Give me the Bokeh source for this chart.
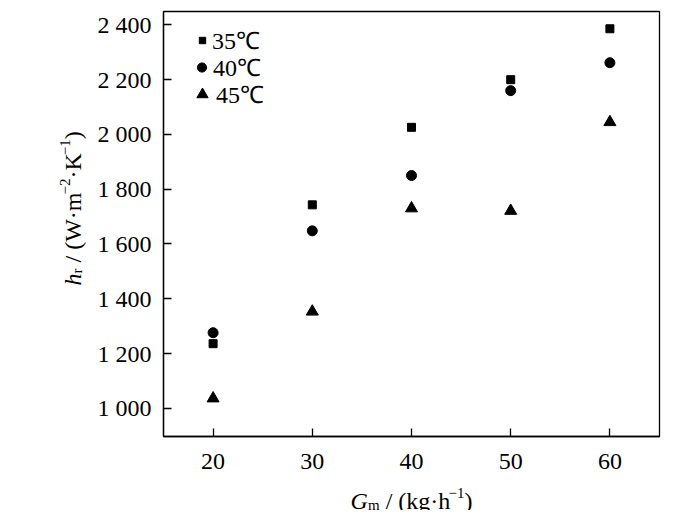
import math
from bokeh.plotting import figure
from bokeh.models import Range1d, FixedTicker, Legend, LegendItem, Label
from bokeh.layouts import row, column
from bokeh.embed import file_html
from bokeh.resources import INLINE

# ---- data ----
flow = [20, 30, 40, 50, 60]
hr_35 = [1236, 1743, 2026, 2200, 2386]
hr_40 = [1276, 1648, 1850, 2160, 2262]
hr_45 = [1036, 1353, 1730, 1721, 2045]
series_names = ["35℃", "40℃", "45℃"]
x_ticks = [20, 30, 40, 50, 60]
y_ticks = [1000, 1200, 1400, 1600, 1800, 2000, 2200, 2400]
y_tick_labels = ["1 000", "1 200", "1 400", "1 600", "1 800", "2 000", "2 200", "2 400"]

FONT = "Liberation Serif"
YL_W = 90      # width of the strip holding the y-axis title
MAIN_W = 684 - YL_W
MAIN_H = 480
XL_H = 30      # height of the strip holding the x-axis title
TOTAL_H = MAIN_H + XL_H

p = figure(width=MAIN_W, height=MAIN_H, output_backend="svg", toolbar_location=None,
           x_range=Range1d(15, 65), y_range=Range1d(897, 2449),
           min_border_left=163 - YL_W, min_border_right=25, min_border_top=11,
           min_border_bottom=MAIN_H - 436)
p.title = None
p.background_fill_color = "white"
p.border_fill_color = "white"
p.outline_line_color = "black"
p.outline_line_width = 1.3
p.xgrid.visible = False
p.ygrid.visible = False

for ax in (p.xaxis[0], p.yaxis[0]):
    ax.axis_line_color = "black"
    ax.axis_line_width = 1.3
    ax.major_tick_in = 8
    ax.major_tick_out = 0
    ax.major_tick_line_color = "black"
    ax.major_tick_line_width = 1.3
    ax.minor_tick_line_color = None
    ax.major_label_text_font = FONT
    ax.major_label_text_font_size = "24px"
    ax.major_label_text_color = "black"
    ax.axis_label = None

p.xaxis[0].ticker = FixedTicker(ticks=x_ticks)
p.xaxis[0].major_label_standoff = 17
p.yaxis[0].ticker = FixedTicker(ticks=y_ticks)
p.yaxis[0].major_label_overrides = {t: s for t, s in zip(y_ticks, y_tick_labels)}
p.yaxis[0].major_label_standoff = 12

r1 = p.scatter(flow, hr_35, marker="square", size=8, color="black")
r2 = p.scatter(flow, hr_40, marker="circle", size=10, color="black")
r3 = p.scatter(flow, hr_45, marker="triangle", size=12, color="black")

# one single-item legend per series, so each legend marker gets its own size
for rend, name, gw, stand, ly in [(r1, series_names[0], 16, 2, 380),
                                  (r2, series_names[1], 23, -2, 353),
                                  (r3, series_names[2], 28, -4, 326)]:
    lg = Legend(items=[LegendItem(label=name, renderers=[rend])],
                location=(int(202 - gw / 2 - 163), ly), border_line_color=None,
                background_fill_alpha=0, glyph_width=gw, glyph_height=30,
                label_height=30, spacing=0, padding=0, margin=0,
                label_standoff=stand, label_text_font=FONT,
                label_text_font_size="24px", label_text_color="black")
    p.add_layout(lg)


def strip(w, h):
    f = figure(width=w, height=h, output_backend="svg", toolbar_location=None,
               x_range=Range1d(0, w), y_range=Range1d(0, h),
               x_axis_location=None, y_axis_location=None,
               min_border_left=0, min_border_right=0, min_border_top=0, min_border_bottom=0)
    f.title = None
    f.outline_line_color = None
    f.xgrid.visible = False
    f.ygrid.visible = False
    f.background_fill_color = "white"
    f.border_fill_color = "white"
    return f


def lab(f, x, y, text, size, italic=False, angle=0.0):
    f.add_layout(Label(x=x, y=y, x_units="canvas", y_units="canvas", text=text,
                       text_font=FONT, text_font_size=f"{size}px",
                       text_font_style="italic" if italic else "normal",
                       text_color="black", text_align="left",
                       text_baseline="alphabetic", angle=angle))


# x-axis title: G_m / (kg·h^-1)  (strip origin at page (YL_W, MAIN_H))
px = strip(MAIN_W, XL_H)
ox, oy = YL_W, MAIN_H
lab(px, 350 - ox, 500 - oy, "G", 24, italic=True)
lab(px, 367.5 - ox, 504 - oy, "m", 15)
lab(px, 385.2 - ox, 500 - oy, "/ (kg·h", 24)
lab(px, 448 - ox, 492 - oy, "−1", 15)
lab(px, 464 - ox, 500 - oy, ")", 24)

# y-axis title: h_r / (W·m^-2·K^-1), rotated  (strip origin at page (0, 0))
py = strip(YL_W, TOTAL_H)
a = math.pi / 2
lab(py, 72, 285, "h", 24, italic=True, angle=a)
lab(py, 76, 273, "r", 15, angle=a)
lab(py, 72, 262, "/ (W·m", 24, angle=a)
lab(py, 64, 194, "−2", 15, angle=a)
lab(py, 72, 178, "·K", 24, angle=a)
lab(py, 64, 154.7, "−1", 15, angle=a)
lab(py, 72, 138.7, ")", 24, angle=a)

layout = row(py, column(p, px))
open("out.html", "w").write(file_html(layout, INLINE))
